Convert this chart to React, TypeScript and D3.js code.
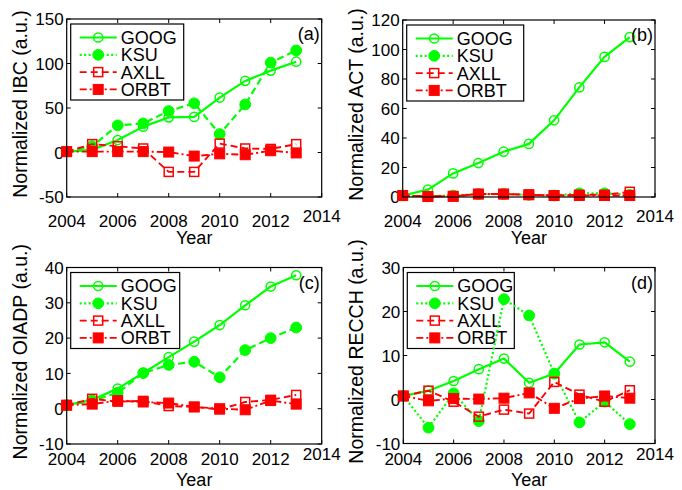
import React from "react";
import * as d3 from "d3";

const years = [2004, 2005, 2006, 2007, 2008, 2009, 2010, 2011, 2012, 2013];
const xTicks = [2004, 2006, 2008, 2010, 2012, 2014];
const seriesNames = ["GOOG", "KSU", "AXLL", "ORBT"];

// Panel (a) IBC
const ibcGOOG = [1, 3, 14, 29, 39.5, 40, 61.7, 80.5, 92, 102];
const ibcKSU = [1, 7, 30.5, 32.7, 46.6, 55.3, 20.7, 54, 101, 114.7];
const ibcAXLL = [1, 9.4, 7, 4.5, -21.8, -21.8, 10, 4.5, 4, 9.4];
const ibcORBT = [1, 1, 1, 1, 0.5, -4, -1.5, -2.5, 2, -0.5];
const ibcTicks = [-50, 0, 50, 100, 150];

// Panel (b) ACT
const actGOOG = [1, 5, 16, 23, 30.7, 36, 52, 74.3, 95, 108.4];
const actKSU = [1, 0.5, 1, 2, 2, 1.5, 1, 2.5, 2.5, 1.5];
const actAXLL = [1, 0.5, 0.5, 2, 2, 1.5, 1, 1.5, 1.5, 3.5];
const actORBT = [1, 0.3, 0.5, 2, 2, 1.5, 1, 1, 1, 1];
const actTicks = [0, 20, 40, 60, 80, 100, 120];

// Panel (c) OIADP
const oiaGOOG = [1, 2.5, 5.7, 10.1, 14.6, 19, 23.7, 29.3, 34.6, 37.8];
const oiaKSU = [1, 2.2, 4.5, 10.1, 12.4, 13.3, 8.9, 16.6, 20, 23];
const oiaAXLL = [1, 2.8, 2, 2.2, 0.75, 0.5, -0.2, 1.9, 2.5, 3.9];
const oiaORBT = [1, 1.3, 2.3, 1.9, 1.6, 0.5, 0, -0.3, 2.3, 1.3];
const oiaTicks = [-10, 0, 10, 20, 30, 40];

// Panel (d) RECCH
const recGOOG = [0.8, 2, 4.2, 6.9, 9.3, 3.8, 5.9, 12.5, 13, 8.6];
const recKSU = [0.8, -6.4, 1.4, -4.9, 22.8, 19.1, 5.9, -5.2, -0.5, -5.6];
const recAXLL = [0.8, 2, -0.5, -3.9, -2.3, -3.2, 4, 1.1, -0.5, 2.1];
const recORBT = [0.8, -0.3, 0.2, 0.1, 0.3, 1.5, -2, 0.2, 0.8, 0.3];
const recTicks = [-10, 0, 10, 20, 30];

const GREEN = "#00ff00";
const RED = "#ff0000";
const FONT = "'Liberation Sans', Arial, sans-serif";

type Style = { color: string; dash: string | null; marker: "oc" | "fc" | "os" | "fs"; width: number };

const baseStyles: Style[] = [
  { color: GREEN, dash: null, marker: "oc", width: 2.2 },
  { color: GREEN, dash: "7,4", marker: "fc", width: 2.2 },
  { color: RED, dash: "7,4", marker: "os", width: 1.9 },
  { color: RED, dash: "7,3,2,3", marker: "fs", width: 1.9 },
];
const legendStyles: Style[] = [
  baseStyles[0],
  { ...baseStyles[1], dash: "2,2.5" },
  baseStyles[2],
  baseStyles[3],
];

type Panel = {
  label: string;
  yLabel: string;
  data: number[][];
  domain: [number, number];
  ticks: number[];
  left: number; right: number; top: number; bottom: number;
  ksuDash: string;
  xLabelY: number;
  yearY: number;
  legW: number;
};

const panels: Panel[] = [
  { label: "(a)", yLabel: "Normalized IBC (a.u.)", data: [ibcGOOG, ibcKSU, ibcAXLL, ibcORBT], domain: [-50, 150], ticks: ibcTicks,
    left: 66.7, right: 321.7, top: 19, bottom: 197, ksuDash: "7,4", xLabelY: 227, yearY: 244, legW: 113 },
  { label: "(b)", yLabel: "Normalized ACT (a.u.)", data: [actGOOG, actKSU, actAXLL, actORBT], domain: [0, 120], ticks: actTicks,
    left: 402.7, right: 655, top: 20, bottom: 197, ksuDash: "2,2.5", xLabelY: 227, yearY: 244, legW: 117 },
  { label: "(c)", yLabel: "Normalized OIADP (a.u.)", data: [oiaGOOG, oiaKSU, oiaAXLL, oiaORBT], domain: [-10, 40], ticks: oiaTicks,
    left: 66.7, right: 321.7, top: 267.5, bottom: 444, ksuDash: "7,4", xLabelY: 465, yearY: 486, legW: 109 },
  { label: "(d)", yLabel: "Normalized RECCH (a.u.)", data: [recGOOG, recKSU, recAXLL, recORBT], domain: [-10, 30], ticks: recTicks,
    left: 403.3, right: 655, top: 267.5, bottom: 443.5, ksuDash: "2,2.5", xLabelY: 465, yearY: 486, legW: 107 },
];

function Marker({ x, y, kind, color }: { x: number; y: number; kind: Style["marker"]; color: string }) {
  if (kind === "oc") return <circle cx={x} cy={y} r={4.6} fill="none" stroke={color} strokeWidth={1.5} />;
  if (kind === "fc") return <circle cx={x} cy={y} r={5.4} fill={color} stroke={color} strokeWidth={1} />;
  if (kind === "os") return <rect x={x - 4.5} y={y - 4.5} width={9} height={9} fill="none" stroke={color} strokeWidth={1.5} />;
  return <rect x={x - 5} y={y - 5} width={10} height={10} fill={color} stroke={color} strokeWidth={1} />;
}

function PanelView({ p }: { p: Panel }) {
  const x = d3.scaleLinear().domain([2004, 2014]).range([p.left, p.right]);
  const y = d3.scaleLinear().domain(p.domain).range([p.bottom, p.top]);
  const line = d3.line<number>().x((_, i) => x(years[i])).y((v) => y(v));
  const styles = baseStyles.map((s, i) => (i === 1 ? { ...s, dash: p.ksuDash } : s));
  const tl = 4;
  const legX = p.left + 4;
  const legY = p.top + 5;
  const cy = (p.top + p.bottom) / 2 - 4;
  return (
    <g fontFamily={FONT}>
      <rect x={p.left} y={p.top} width={p.right - p.left} height={p.bottom - p.top} fill="white" stroke="none" />
      {/* ticks */}
      {xTicks.map((t) => (
        <g key={"xt" + t}>
          <line x1={x(t)} x2={x(t)} y1={p.bottom} y2={p.bottom - tl} stroke="black" strokeWidth={1} />
          <line x1={x(t)} x2={x(t)} y1={p.top} y2={p.top + tl} stroke="black" strokeWidth={1} />
          <text x={x(t)} y={p.xLabelY - (t === 2014 ? 5 : 0)} textAnchor="middle" fontSize={17} fill="black">{t}</text>
        </g>
      ))}
      {p.ticks.map((t) => (
        <g key={"yt" + t}>
          <line x1={p.left} x2={p.left + tl} y1={y(t)} y2={y(t)} stroke="black" strokeWidth={1} />
          <line x1={p.right} x2={p.right - tl} y1={y(t)} y2={y(t)} stroke="black" strokeWidth={1} />
          <text x={p.left - 3} y={y(t)} dy="0.36em" textAnchor="end" fontSize={17} fill="black">{t}</text>
        </g>
      ))}
      {/* legend (drawn beneath the data) */}
      <rect x={legX} y={legY} width={p.legW} height={76} fill="white" stroke="black" strokeWidth={1.2} />
      {seriesNames.map((n, i) => {
        const s = legendStyles[i];
        const ly = legY + 13.5 + i * 17.3;
        return (
          <g key={"l" + n}>
            <line x1={legX + 9} x2={legX + 46} y1={ly} y2={ly} stroke={s.color} strokeWidth={s.width} strokeDasharray={s.dash || undefined} />
            <Marker x={legX + 27.5} y={ly} kind={s.marker} color={s.color} />
            <text x={legX + 50} y={ly} dy="0.36em" fontSize={18} fill="black">{n}</text>
          </g>
        );
      })}
      {/* series */}
      {p.data.map((vals, si) => {
        const s = styles[si];
        return (
          <g key={"s" + si}>
            <path d={line(vals) || ""} fill="none" stroke={s.color} strokeWidth={s.width} strokeDasharray={s.dash || undefined} />
            {vals.map((v, i) => (
              <Marker key={i} x={x(years[i])} y={y(v)} kind={s.marker} color={s.color} />
            ))}
          </g>
        );
      })}
      <rect x={p.left} y={p.top} width={p.right - p.left} height={p.bottom - p.top} fill="none" stroke="black" strokeWidth={1.2} />
      <text x={p.right - 2} y={p.top + 21} textAnchor="end" fontSize={18} fill="black">{p.label}</text>
      <text x={(p.left + p.right) / 2} y={p.yearY} textAnchor="middle" fontSize={18} fill="black">Year</text>
      <text transform={`translate(${p.left - 40},${cy}) rotate(-90)`} textAnchor="middle" fontSize={19.5} fill="black">{p.yLabel}</text>
    </g>
  );
}

export default function App() {
  return (
    <svg width={682} height={490} style={{ position: "absolute", left: 0, top: 0, background: "white" }}>
      <rect x={0} y={0} width={682} height={490} fill="white" />
      {panels.map((p) => (
        <PanelView key={p.label} p={p} />
      ))}
    </svg>
  );
}
